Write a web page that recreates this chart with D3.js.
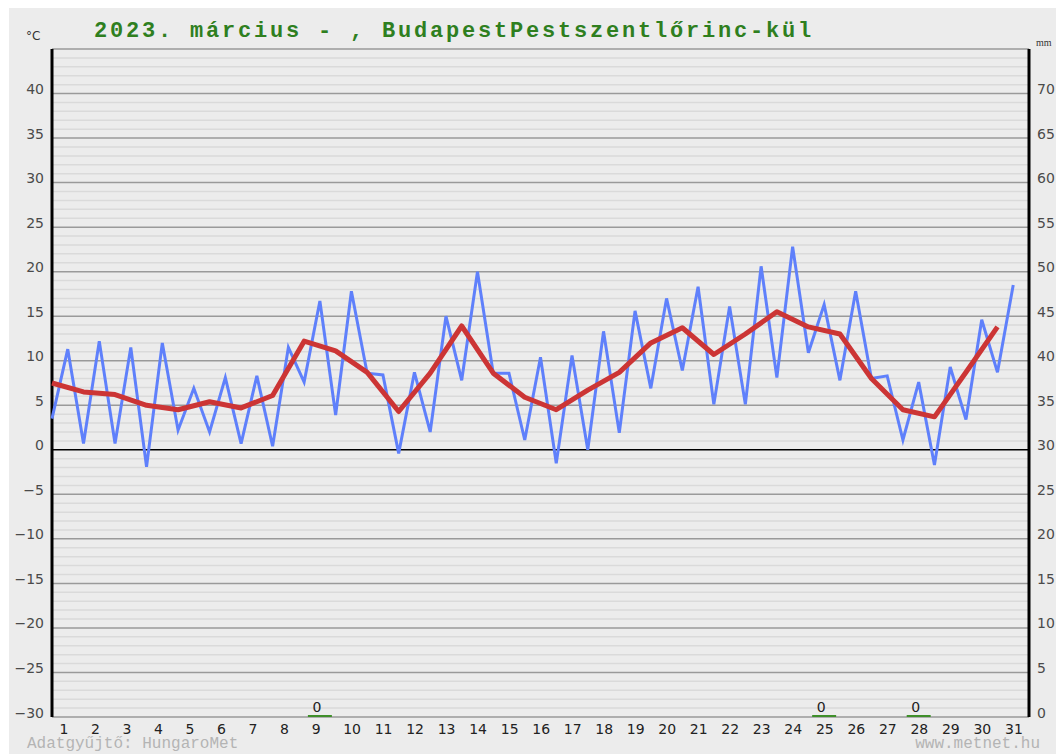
<!DOCTYPE html>
<html lang="hu">
<head>
<meta charset="utf-8">
<title>2023. március - BudapestPestszentlőrinc-kül</title>
<style>
body {
  margin: 0;
  background: #ffffff;
}
#title {
  font: bold 22px "Liberation Mono", monospace;
  fill: #2f7f1f;
  letter-spacing: 2.8px;
}
.leftAxisText text, .rightAxisText text {
  font: 14px "DejaVu Sans", sans-serif;
  fill: #4a4a4a;
}
.bottomAxisText text {
  font: 14px "DejaVu Sans", sans-serif;
  fill: #222;
}
.footer {
  font: 16px "Liberation Mono", monospace;
  fill: #b4b4b4;
}
</style>
</head>
<body>
<div id="chart"></div>
<script src="https://d3js.org/d3.v7.min.js"></script>
<script>
// day numbers on the x axis
var days = [1, 2, 3, 4, 5, 6, 7, 8, 9, 10, 11, 12, 13, 14, 15, 16,
            17, 18, 19, 20, 21, 22, 23, 24, 25, 26, 27, 28, 29, 30, 31];
// blue line: two readings per day (start of day, middle of day), °C
var tempHalfDay = [3.5, 11.3, 0.7, 12.2, 0.7, 11.5, -1.9, 12.0, 2.2, 6.9,
                   2.0, 8.1, 0.7, 8.3, 0.4, 11.5, 7.6, 16.7, 3.9, 17.8,
                   8.6, 8.4, -0.4, 8.7, 2.0, 15.0, 7.8, 20.0, 8.6, 8.6,
                   1.1, 10.4, -1.5, 10.6, 0.0, 13.3, 1.9, 15.6, 6.9, 17.0,
                   8.9, 18.3, 5.1, 16.1, 5.1, 20.6, 8.1, 22.8, 10.9, 16.3,
                   7.8, 17.8, 8.0, 8.3, 1.1, 7.6, -1.7, 9.3, 3.4, 14.6,
                   8.7, 18.5];
// red line: daily mean, °C
var tempDailyMean = [7.5, 6.5, 6.2, 5.0, 4.5, 5.4, 4.7, 6.1, 12.2, 11.1,
                     8.7, 4.3, 8.6, 13.9, 8.6, 5.9, 4.5, 6.7, 8.7, 12.0,
                     13.7, 10.7, 13.0, 15.5, 13.8, 13.0, 8.0, 4.5, 3.7, 8.7,
                     13.8];
// precipitation (mm)
var precipDays = [9, 25, 28];
var precipValues = [0, 0, 0];
// axis ticks
var tempTicks = [-30, -25, -20, -15, -10, -5, 0, 5, 10, 15, 20, 25, 30, 35, 40];
var mmTicks = [0, 5, 10, 15, 20, 25, 30, 35, 40, 45, 50, 55, 60, 65, 70];

var W = 1056, H = 754;
// plot box (named so they don't clash with window.top etc.)
var plotL = 52, plotR = 1029, plotT = 49, plotB = 717;

var svg = d3.select('#chart')
  .append('svg')
  .attr('width', W)
  .attr('height', H);

svg.append('rect')
  .attr('x', 9).attr('y', 8)
  .attr('width', W - 9).attr('height', H - 8)
  .attr('fill', '#ececec');

var x = d3.scaleLinear().domain([1, 32]).range([plotL, plotR]);
var y = d3.scaleLinear().domain([-30, 45]).range([plotB, plotT]);
var yMM = d3.scaleLinear().domain([0, 75]).range([plotB, plotT]);

// minor grid (every degree)
var minor = d3.range(-29, 45).filter(function(v) { return v % 5 !== 0; });
svg.append('g').selectAll('line')
  .data(minor)
  .enter().append('line')
  .attr('x1', plotL).attr('x2', plotR)
  .attr('y1', function(d) { return y(d); })
  .attr('y2', function(d) { return y(d); })
  .attr('stroke', '#dadada')
  .attr('stroke-width', 1.5);

// major grid (every 5 degrees)
svg.append('g').selectAll('line')
  .data(d3.range(-30, 46, 5))
  .enter().append('line')
  .attr('x1', plotL).attr('x2', plotR)
  .attr('y1', function(d) { return y(d); })
  .attr('y2', function(d) { return y(d); })
  .attr('stroke', function(d) { return d === 0 ? '#000' : '#9a9a9a'; })
  .attr('stroke-width', function(d) { return d === 0 ? 1.6 : 1.5; });

// left axis
var leftAxis = svg.append('g')
  .attr('class', 'leftAxisText')
  .attr('transform', 'translate(' + plotL + ',0)')
  .call(d3.axisLeft(y).tickValues(tempTicks).tickSize(0).tickPadding(8));
leftAxis.select('.domain').remove();
leftAxis.selectAll('text').attr('dy', '0');

// right axis (mm)
var rightAxis = svg.append('g')
  .attr('class', 'rightAxisText')
  .attr('transform', 'translate(' + plotR + ',0)')
  .call(d3.axisRight(yMM).tickValues(mmTicks).tickSize(0).tickPadding(8));
rightAxis.select('.domain').remove();
rightAxis.selectAll('text').attr('dy', '0');

// bottom axis: day numbers, left aligned inside each day
var bottomAxis = svg.append('g')
  .attr('class', 'bottomAxisText')
  .attr('transform', 'translate(0,' + plotB + ')')
  .call(d3.axisBottom(x).tickValues(days).tickSize(0).tickPadding(0));
bottomAxis.select('.domain').remove();
bottomAxis.selectAll('text')
  .attr('text-anchor', 'start')
  .attr('x', 7)
  .attr('y', 17)
  .attr('dy', '0');

// thick vertical axis lines
svg.append('line')
  .attr('x1', plotL).attr('x2', plotL).attr('y1', plotT).attr('y2', plotB)
  .attr('stroke', '#000').attr('stroke-width', 3);
svg.append('line')
  .attr('x1', plotR).attr('x2', plotR).attr('y1', plotT).attr('y2', plotB)
  .attr('stroke', '#000').attr('stroke-width', 3);

// precipitation bars and labels
var barW = 24;
svg.append('g').selectAll('rect')
  .data(precipDays)
  .enter().append('rect')
  .attr('x', function(d) { return x(d + 0.5) - barW / 2; })
  .attr('y', function(d, i) { return yMM(precipValues[i]) - 2; })
  .attr('width', barW)
  .attr('height', function(d, i) { return yMM(0) - yMM(precipValues[i]) + 2; })
  .attr('fill', '#3f8f2a');
svg.append('g').selectAll('text')
  .data(precipDays)
  .enter().append('text')
  .attr('x', function(d) { return x(d + 0.5) - 3; })
  .attr('y', function(d, i) { return yMM(precipValues[i]) - 5; })
  .attr('text-anchor', 'middle')
  .style('font', '14px "DejaVu Sans", sans-serif')
  .style('fill', '#222')
  .text(function(d, i) { return precipValues[i]; });

// blue line
var blueLine = d3.line()
  .x(function(d, i) { return x(1 + i / 2); })
  .y(function(d) { return y(d); });
svg.append('path')
  .datum(tempHalfDay)
  .attr('d', blueLine)
  .attr('fill', 'none')
  .attr('stroke', '#5f80fb')
  .attr('stroke-width', 3)
  .attr('stroke-linejoin', 'miter');

// red line
var redLine = d3.line()
  .x(function(d, i) { return x(days[i]); })
  .y(function(d) { return y(d); });
svg.append('path')
  .datum(tempDailyMean)
  .attr('d', redLine)
  .attr('fill', 'none')
  .attr('stroke', '#cc3535')
  .attr('stroke-width', 5)
  .attr('stroke-linejoin', 'round');

// title and unit labels
svg.append('text')
  .attr('id', 'title')
  .attr('x', 94)
  .attr('y', 37)
  .text('2023. március - , BudapestPestszentlőrinc-kül');
svg.append('text')
  .attr('x', 26).attr('y', 40)
  .style('font', '12px "DejaVu Sans", sans-serif')
  .style('fill', '#333')
  .text('°C');
svg.append('text')
  .attr('x', 1036).attr('y', 46)
  .style('font', '10px "Liberation Serif", serif')
  .style('fill', '#333')
  .text('mm');

// footer
svg.append('text')
  .attr('class', 'footer')
  .attr('x', 27).attr('y', 748)
  .text('Adatgyűjtő: HungaroMet');
svg.append('text')
  .attr('class', 'footer')
  .attr('x', 1040).attr('y', 748)
  .attr('text-anchor', 'end')
  .text('www.metnet.hu');
</script>
</body>
</html>
